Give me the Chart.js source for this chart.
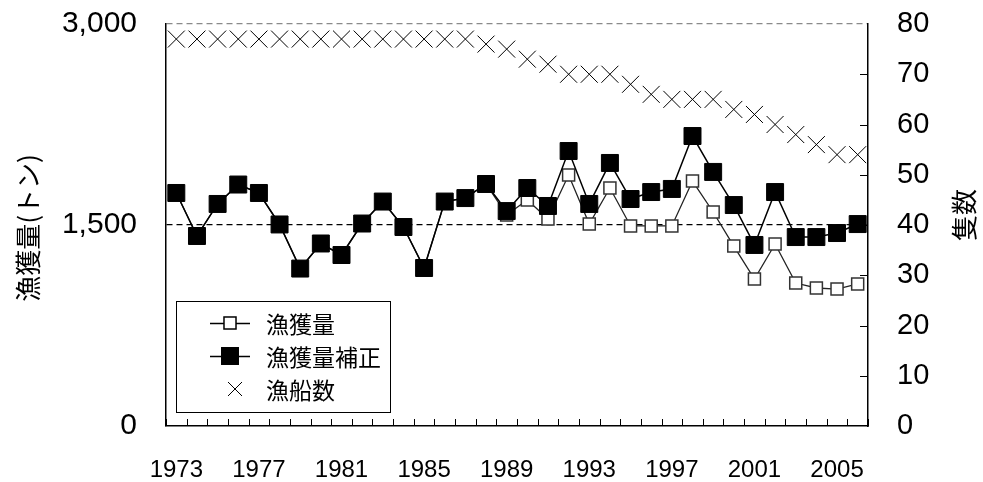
<!DOCTYPE html>
<html>
<head>
<meta charset="utf-8">
<style>
  html, body { margin: 0; padding: 0; background: #fff; }
  #wrap { width: 983px; height: 482px; position: relative; }
</style>
<script src="https://cdn.jsdelivr.net/npm/chart.js"></script>
</head>
<body>
<div id="wrap"><canvas id="chart"></canvas></div>
<script>
// Years on the category axis
const years = ['1973','1974','1975','1976','1977','1978','1979','1980','1981','1982',
               '1983','1984','1985','1986','1987','1988','1989','1990','1991','1992',
               '1993','1994','1995','1996','1997','1998','1999','2000','2001','2002',
               '2003','2004','2005','2006'];

// Catch (tonnes)
const catchTons = [1739, 1418, 1657, 1802, 1739, 1504, 1175, 1362, 1276, 1511,
                   1675, 1485, 1179, 1675, 1701, 1806, 1575, 1687, 1545, 1873,
                   1507, 1776, 1493, 1493, 1493, 1828, 1597, 1343, 1097, 1358,
                   1067, 1030, 1022, 1060];

// Adjusted catch (tonnes)
const catchAdjusted = [1739, 1418, 1657, 1802, 1739, 1504, 1175, 1362, 1276, 1511,
                       1675, 1485, 1179, 1675, 1701, 1806, 1604, 1776, 1642, 2052,
                       1657, 1963, 1694, 1746, 1769, 2164, 1896, 1649, 1351, 1746,
                       1410, 1410, 1440, 1507];

// Number of fishing boats
const boats = [77, 77, 77, 77, 77, 77, 77, 77, 77, 77,
               77, 77, 77, 77, 77, 76, 75, 73, 72, 70,
               70, 70, 68, 66, 65, 65, 65, 63, 62, 60,
               58, 56, 54, 54];

// Axis ticks
const leftTicks = [0, 1500, 3000];
const rightTicks = [0, 10, 20, 30, 40, 50, 60, 70, 80];
const labelEvery = 4;

const seriesNames = ['漁獲量', '漁獲量補正', '漁船数'];
const leftTitle = '漁獲量(トン)';
const rightTitle = '隻数';

const latin = '"Liberation Sans", Arial, sans-serif';
const cjk = '"Noto Sans CJK JP", "Noto Sans", sans-serif';

// Inward tick marks, axis titles and the boxed legend
const decorations = {
  id: 'decorations',
  afterDraw(chart) {
    const ctx = chart.ctx;
    const area = chart.chartArea;
    const x = chart.scales.x;
    const yR = chart.scales.yR;
    ctx.save();
    ctx.strokeStyle = '#000';
    ctx.lineWidth = 1;
    // year tick marks along the bottom edge, at category boundaries
    const half = (x.getPixelForValue(1) - x.getPixelForValue(0)) / 2;
    for (let i = 0; i <= years.length; i++) {
      const px = Math.round(x.getPixelForValue(i) - half) + 0.5;
      ctx.beginPath();
      ctx.moveTo(px, area.bottom);
      ctx.lineTo(px, area.bottom - 7);
      ctx.stroke();
    }
    // right-axis tick marks pointing into the plot
    rightTicks.forEach(v => {
      if (v === 0 || v === 80) return;
      const py = Math.round(yR.getPixelForValue(v)) + 0.5;
      ctx.beginPath();
      ctx.moveTo(area.right, py);
      ctx.lineTo(area.right - 8, py);
      ctx.stroke();
    });

    // axis titles, both reading bottom to top
    ctx.fillStyle = '#000';
    ctx.textAlign = 'center';
    ctx.textBaseline = 'middle';
    ctx.font = '26px ' + cjk;
    ctx.save();
    ctx.translate(28, 228);
    ctx.rotate(-Math.PI / 2);
    ctx.fillText(leftTitle, 0, 0);
    ctx.restore();
    ctx.font = '26px ' + cjk;
    ctx.save();
    ctx.translate(964, 215);
    ctx.rotate(-Math.PI / 2);
    ctx.fillText(rightTitle, 0, 0);
    ctx.restore();

    // legend box
    const bx = 176, by = 301, bw = 214, bh = 111;
    ctx.fillStyle = '#fff';
    ctx.fillRect(bx, by, bw, bh);
    ctx.strokeStyle = '#000';
    ctx.lineWidth = 1;
    ctx.strokeRect(bx + 0.5, by + 0.5, bw, bh);
    const rows = [323, 356, 389];
    const ds = chart.data.datasets;
    ctx.font = '23px ' + cjk;
    ctx.textAlign = 'left';
    ds.forEach((d, i) => {
      const cy = rows[i];
      const cx = 230;
      ctx.strokeStyle = '#000';
      if (d.showLine !== false) {
        ctx.lineWidth = 1.5;
        ctx.beginPath();
        ctx.moveTo(210, cy + 0.5);
        ctx.lineTo(250, cy + 0.5);
        ctx.stroke();
      }
      if (d.pointStyle === 'rect') {
        const s = d.pointRadius * Math.SQRT1_2;
        ctx.fillStyle = d.pointBackgroundColor;
        ctx.lineWidth = d.pointBorderWidth;
        ctx.fillRect(cx - s, cy - s, 2 * s, 2 * s);
        ctx.strokeRect(cx - s, cy - s, 2 * s, 2 * s);
      } else {
        const s = 7;
        ctx.lineWidth = 1;
        ctx.beginPath();
        ctx.moveTo(cx + 5 - s, cy - s); ctx.lineTo(cx + 5 + s, cy + s);
        ctx.moveTo(cx + 5 + s, cy - s); ctx.lineTo(cx + 5 - s, cy + s);
        ctx.stroke();
      }
      ctx.fillStyle = '#000';
      ctx.fillText(d.label, 266, cy + 1);
    });
    ctx.restore();
  }
};

// fixed side widths; label overhang only needs half a line above the plot
const fitSide = w => s => { s.width = w; s.paddingTop = 17; s.paddingBottom = 17; };

new Chart(document.getElementById('chart'), {
  type: 'line',
  data: {
    labels: years,
    datasets: [
      {
        label: seriesNames[0],
        data: catchTons,
        yAxisID: 'yL',
        borderColor: '#222',
        borderWidth: 1.3,
        pointStyle: 'rect',
        pointRadius: 8.5,
        pointBackgroundColor: '#fff',
        pointBorderColor: '#333',
        pointBorderWidth: 1.5,
        tension: 0,
        order: 2
      },
      {
        label: seriesNames[1],
        data: catchAdjusted,
        yAxisID: 'yL',
        borderColor: '#000',
        borderWidth: 1.5,
        pointStyle: 'rect',
        pointRadius: 12,
        pointBackgroundColor: '#000',
        pointBorderColor: '#000',
        pointBorderWidth: 1,
        tension: 0,
        order: 1
      },
      {
        label: seriesNames[2],
        data: boats,
        yAxisID: 'yR',
        showLine: false,
        pointStyle: 'crossRot',
        pointRadius: 12,
        pointBorderColor: '#000',
        pointBorderWidth: 1,
        order: 0
      }
    ]
  },
  options: {
    responsive: true,
    maintainAspectRatio: false,
    animation: false,
    events: [],
    layout: { padding: { top: 24, left: 0, right: 0, bottom: 0 } },
    plugins: {
      legend: { display: false },
      tooltip: { enabled: false }
    },
    scales: {
      x: {
        type: 'category',
        offset: true,
        grid: { display: false },
        border: { display: true, color: '#000', width: 1.5 },
        ticks: {
          autoSkip: false,
          maxRotation: 0,
          padding: 22,
          color: '#000',
          font: { family: latin, size: 24 },
          callback: (v, i) => (i % labelEvery === 0 ? years[i] : '')
        },
        afterFit: s => { s.height = 56; }
      },
      yL: {
        position: 'left',
        min: 0,
        max: 3000,
        afterBuildTicks: s => { s.ticks = leftTicks.map(v => ({ value: v })); },
        grid: {
          drawTicks: false,
          lineWidth: 1.2,
          color: c => c.tick && c.tick.value === 1500 ? '#000'
                    : c.tick && c.tick.value === 3000 ? '#8a8a8a' : 'rgba(0,0,0,0)'
        },
        border: { display: true, color: '#000', width: 1.5, dash: [6, 4] },
        ticks: {
          padding: 29,
          color: '#000',
          font: { family: latin, size: 30 },
          callback: v => Number(v).toLocaleString('en-US')
        },
        afterFit: fitSide(166)
      },
      yR: {
        position: 'right',
        min: 0,
        max: 80,
        afterBuildTicks: s => { s.ticks = rightTicks.map(v => ({ value: v })); },
        grid: { display: false, drawTicks: false },
        border: { display: true, color: '#000', width: 1.5 },
        ticks: {
          padding: 29,
          color: '#000',
          font: { family: latin, size: 29 }
        },
        afterFit: fitSide(115)
      }
    }
  },
  plugins: [decorations]
});
</script>
</body>
</html>
